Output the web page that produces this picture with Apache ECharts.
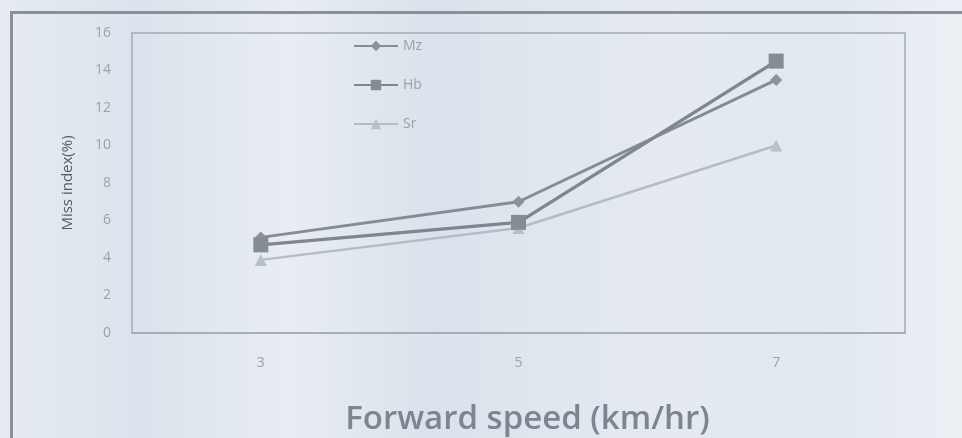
<!DOCTYPE html>
<html><head><meta charset="utf-8">
<script src="https://cdn.jsdelivr.net/npm/echarts@6/dist/echarts.min.js"></script>
<style>
html,body{margin:0;padding:0;}
body{width:962px;height:438px;background:linear-gradient(90deg,#e6ebf2 0%,#dce3ec 15%,#e8edf3 30%,#dbe2eb 45%,#e0e6ee 55%,#e5eaf1 70%,#e1e8ef 85%,#ebf0f5 100%);}
#frame{position:absolute;left:10px;top:11px;width:960px;height:440px;border-left:3px solid #8a9098;border-top:3px solid #8a9098;box-sizing:border-box;}
#c{position:absolute;left:0;top:0;width:962px;height:438px;}
</style></head>
<body>
<div id="frame"></div>
<div id="c"></div>
<script>
const categories = ['3', '5', '7'];
const mz = [5.1, 7.0, 13.5];
const hb = [4.7, 5.9, 14.5];
const sr = [3.9, 5.6, 10.0];
const yTicks = [0, 2, 4, 6, 8, 10, 12, 14, 16];

const chart = echarts.init(document.getElementById('c'));
const font = 'Open Sans, Liberation Sans, sans-serif';
chart.setOption({
  backgroundColor: 'transparent',
  animation: false,
  textStyle: { fontFamily: font },
  grid: { left: 132, right: 57, top: 33, bottom: 105, show: true, borderColor: '#a3abb4', borderWidth: 1.5,
          containLabel: false, outerBoundsMode: 'none' },
  legend: {
    orient: 'vertical', left: 348, top: 34, itemGap: 25, itemWidth: 44, itemHeight: 13,
    textStyle: { color: '#9aa1aa', fontSize: 14, fontFamily: font },
    data: ['Mz', 'Hb', 'Sr']
  },
  xAxis: {
    type: 'category', data: categories, boundaryGap: true,
    name: 'Forward speed (km/hr)', nameLocation: 'middle', nameGap: 70,
    nameTextStyle: { fontSize: 33, fontWeight: 600, color: '#7c8590', fontFamily: font, padding: [0, 0, 0, 18] },
    axisLine: { show: true, lineStyle: { color: '#a3abb4', width: 1.5 } },
    axisTick: { show: false },
    axisLabel: { color: '#9aa2aa', fontSize: 14, margin: 23 },
    splitLine: { show: false }
  },
  yAxis: {
    type: 'value', min: 0, max: 16, interval: 2,
    name: 'Miss index(%)', nameLocation: 'middle', nameGap: 57,
    nameTextStyle: { fontSize: 15, color: '#555b63', fontWeight: 500, fontFamily: font },
    axisLine: { show: false }, axisTick: { show: false },
    axisLabel: { color: '#9aa2aa', fontSize: 14, margin: 21, formatter: v => yTicks.includes(v) ? String(v) : '' },
    splitLine: { show: false }
  },
  series: [
    { name: 'Mz', type: 'line', data: mz, symbol: 'diamond', symbolSize: 12,
      lineStyle: { color: '#858c95', width: 3 }, itemStyle: { color: '#8b929b' }, z: 3 },
    { name: 'Hb', type: 'line', data: hb, symbol: 'rect', symbolSize: 15,
      lineStyle: { color: '#7f868f', width: 3.5 }, itemStyle: { color: '#858c95' }, z: 4 },
    { name: 'Sr', type: 'line', data: sr, symbol: 'triangle', symbolSize: 12,
      lineStyle: { color: '#b5bcc5', width: 2.5 }, itemStyle: { color: '#b8bfc8' }, z: 2 }
  ]
});
</script>
</body></html>
